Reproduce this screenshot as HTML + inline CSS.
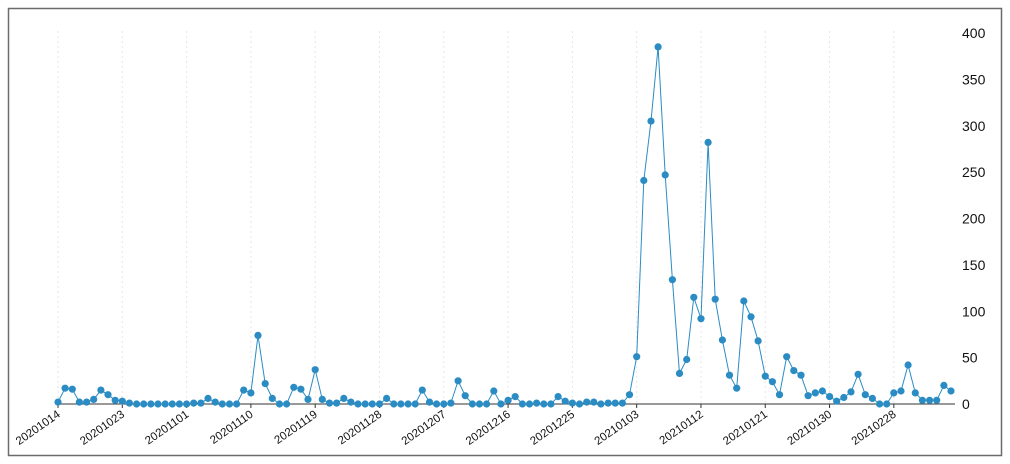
<!DOCTYPE html>
<html><head><meta charset="utf-8"><style>
html,body{margin:0;padding:0;background:#fff;}
svg{display:block;font-family:"Liberation Sans",sans-serif;}
</style></head><body>
<svg id="c" width="1010" height="464" xmlns="http://www.w3.org/2000/svg">
<rect x="8.5" y="8.5" width="993" height="447" fill="#fff" stroke="#6b6b6b" stroke-width="1.5"/>
<g id="g"></g>
</svg>
<script>
var d=[2,17,16,2,2,5,15,10,4,3, 1,0,0,0,0,0,0,0,0,1, 1,6,2,0,0,0,15,12,74,22, 6,0,0,18,16,5,37,5,1,1, 6,2,0,0,0,0,6,0,0,0, 0,15,2,0,0,1,25,9,0,0, 0,14,0,4,8,0,0,1,0,0, 8,3,1,0,2,2,0,1,1,1, 10,51,241,305,385,247,134,33,48,115, 92,282,113,69,31,17,111,94,68,30, 24,10,51,36,31,9,12,14,8,3, 7,13,32,10,6,0,0,12,14,42, 12,4,4,4,20,14];
var x0=58,step=(951-58)/125,y0=404,k=371/400;
var labs=["20201014","20201023","20201101","20201110","20201119","20201128","20201207","20201216","20201225","20210103","20210112","20210121","20210130","20210228"];
var s="";
for(var i=0;i<labs.length;i++){var x=x0+i*9*step;
s+='<line x1="'+x+'" y1="31" x2="'+x+'" y2="'+y0+'" stroke="#e6e6e6" stroke-dasharray="2,3"/>';
s+='<line x1="'+x+'" y1="'+y0+'" x2="'+x+'" y2="'+(y0+4)+'" stroke="#333"/>';
s+='<text x="'+(x+3)+'" y="'+(y0+12)+'" font-size="11.5" text-anchor="end" fill="#111" transform="rotate(-35 '+(x+3)+' '+(y0+12)+')">'+labs[i]+'</text>';}
s+='<line x1="56" y1="'+y0+'" x2="955" y2="'+y0+'" stroke="#333" stroke-width="1"/>';
for(var v=0;v<=400;v+=50){var y=y0-v*k;s+='<text x="962" y="'+(y+5)+'" font-size="14" fill="#111">'+v+'</text>';}
var p="";for(var i=0;i<d.length;i++){p+=(i?"L":"M")+(x0+i*step).toFixed(1)+","+(y0-d[i]*k).toFixed(1);}
s+='<path d="'+p+'" fill="none" stroke="#2b8cc4" stroke-width="1"/>';
for(var i=0;i<d.length;i++){s+='<circle cx="'+(x0+i*step).toFixed(1)+'" cy="'+(y0-d[i]*k).toFixed(1)+'" r="3.6" fill="#2b8cc4"/>';}
document.getElementById("g").innerHTML=s;
</script>
</body></html>
